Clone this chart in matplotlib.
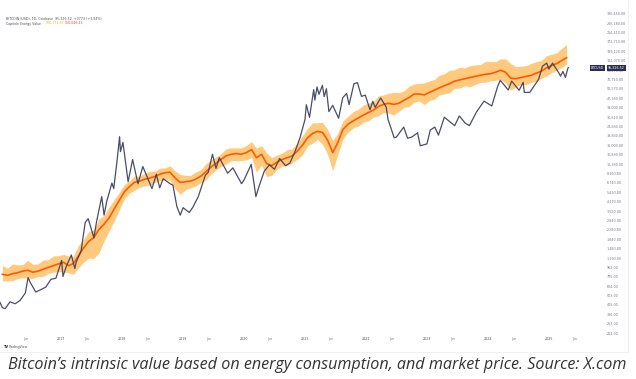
import matplotlib
matplotlib.use("Agg")
import matplotlib.pyplot as plt
import matplotlib.transforms as mtrans
import numpy as np
import pandas as pd

# ---------------- data ----------------
btc_dates = ["2016-01-01","2016-01-15","2016-02-01","2016-03-01","2016-04-01","2016-05-01","2016-06-01","2016-06-17",
    "2016-07-01","2016-08-02","2016-09-01","2016-10-01","2016-11-01","2016-12-01","2017-01-04","2017-01-12",
    "2017-02-01","2017-03-03","2017-03-24","2017-04-01","2017-05-01","2017-05-25","2017-06-12","2017-07-16",
    "2017-08-01","2017-09-01","2017-09-15","2017-10-01","2017-11-01","2017-11-12","2017-12-01","2017-12-17",
    "2017-12-22","2018-01-06","2018-02-06","2018-03-05","2018-04-06","2018-05-05","2018-06-29","2018-07-25",
    "2018-08-14","2018-09-04","2018-10-15","2018-11-01","2018-11-25","2018-12-15","2019-01-01","2019-02-07",
    "2019-03-01","2019-04-02","2019-05-14","2019-06-01","2019-06-26","2019-07-17","2019-08-06","2019-09-25",
    "2019-10-26","2019-12-17","2020-01-01","2020-02-13","2020-03-12","2020-04-01","2020-05-01","2020-06-01",
    "2020-07-01","2020-08-01","2020-09-05","2020-10-01","2020-11-01","2020-12-01","2020-12-31","2021-01-08",
    "2021-01-27","2021-02-21","2021-02-28","2021-03-13","2021-03-25","2021-04-14","2021-04-25","2021-05-08",
    "2021-05-23","2021-06-15","2021-07-20","2021-08-14","2021-09-06","2021-09-21","2021-10-20","2021-11-10",
    "2021-12-04","2021-12-27","2022-01-24","2022-02-10","2022-02-24","2022-03-29","2022-05-01","2022-05-12",
    "2022-06-18","2022-07-01","2022-08-14","2022-09-06","2022-10-01","2022-11-05","2022-11-21","2022-12-31",
    "2023-01-20","2023-02-16","2023-03-10","2023-04-14","2023-06-15","2023-07-13","2023-08-17","2023-09-11",
    "2023-10-24","2023-12-08","2024-01-23","2024-02-28","2024-03-14","2024-05-01","2024-05-21","2024-07-05",
    "2024-07-29","2024-08-05","2024-09-06","2024-10-29","2024-11-22","2024-12-17","2024-12-30","2025-01-21",
    "2025-02-28","2025-03-10","2025-03-24","2025-04-08","2025-04-22","2025-04-25"]
btc_prices = [430,380,372,435,416,450,535,760,675,545,575,610,730,750,1130,780,
    985,1280,935,1080,1420,2700,2950,1900,2750,4900,3200,4400,6700,5900,10900,19500,
    13800,17100,6900,11500,6600,9800,5900,8200,6000,7400,6600,6400,3900,3200,3800,3400,
    3850,4900,8000,8600,13000,9400,12000,8400,9500,6600,7200,10300,4900,6300,8800,10200,
    9200,11800,10000,10600,13800,19000,29000,40700,30400,57500,45200,61200,51700,63500,49000,58800,
    34700,40100,29800,47800,52700,40700,66000,67600,49300,50700,36200,44000,38300,47500,38500,29000,
    19000,19300,24300,18800,19300,21300,15800,16500,22700,24300,20200,30500,25100,31400,26600,25100,
    34500,44200,39500,62500,71400,57000,70100,56700,68200,54000,53900,72700,98900,106000,92300,106000,
    84300,78500,87400,76300,93400,95326]

energy_start = "2016-01-01"   # monthly values, Jan 2016 .. Apr 2025
energy_value = [820,800,830,850,880,900,860,880,920,960,1000,1040,
    1080,1000,1050,1250,1500,1750,1900,2300,2600,3000,3700,4500,
    5500,6200,6800,7000,7300,7500,7800,8200,8500,8600,7500,6800,
    6900,7000,7300,7800,8600,9600,10500,11500,12500,13000,13200,13000,
    13500,14500,12000,13000,10500,10000,10800,11500,12000,12500,14000,16000,
    19000,21000,22000,21500,18000,13500,17000,23000,26000,28000,30000,32000,
    34000,36000,39000,41000,42000,41000,42000,45000,48000,52000,52000,51000,
    54000,57000,60000,63000,66000,70000,72000,74000,76000,78000,80000,82000,
    83000,86000,90000,86000,75000,74000,76000,78000,80000,84000,88000,95000,
    100000,105000,112000,120000]
energy_hi = [1.22,1.18,1.25,1.20,1.16,1.26,1.20,1.18,1.24,1.19,1.25,1.21,
    1.20,1.25,1.18,1.28,1.22,1.25,1.20,1.27,1.22,1.28,1.24,1.20,
    1.18,1.14,1.16,1.12,1.15,1.17,1.13,1.15,1.12,1.16,1.18,1.20,
    1.16,1.14,1.18,1.16,1.20,1.18,1.16,1.14,1.18,1.16,1.14,1.16,
    1.18,1.20,1.25,1.22,1.28,1.20,1.18,1.16,1.20,1.18,1.20,1.24,
    1.24,1.28,1.22,1.26,1.28,1.32,1.24,1.22,1.20,1.24,1.22,1.26,
    1.24,1.22,1.28,1.24,1.26,1.32,1.28,1.24,1.30,1.26,1.28,1.32,
    1.30,1.28,1.34,1.32,1.36,1.30,1.34,1.28,1.32,1.30,1.28,1.34,
    1.32,1.28,1.30,1.36,1.40,1.32,1.30,1.28,1.32,1.30,1.28,1.32,
    1.30,1.28,1.32,1.36]
energy_lo = [0.86,0.88,0.85,0.87,0.86,0.83,0.87,0.88,0.85,0.87,0.86,0.84,
    0.80,0.85,0.78,0.76,0.72,0.68,0.62,0.58,0.68,0.74,0.76,0.80,
    0.85,0.86,0.83,0.87,0.86,0.85,0.87,0.86,0.85,0.83,0.78,0.76,
    0.83,0.86,0.85,0.86,0.83,0.85,0.86,0.85,0.83,0.86,0.85,0.86,
    0.85,0.83,0.72,0.78,0.74,0.80,0.85,0.86,0.83,0.85,0.83,0.80,
    0.83,0.80,0.83,0.76,0.72,0.66,0.76,0.80,0.83,0.85,0.83,0.85,
    0.83,0.85,0.81,0.83,0.80,0.78,0.83,0.85,0.81,0.83,0.85,0.80,
    0.83,0.81,0.85,0.83,0.81,0.85,0.83,0.85,0.81,0.83,0.85,0.83,
    0.85,0.83,0.81,0.78,0.76,0.83,0.85,0.83,0.85,0.83,0.85,0.83,
    0.85,0.86,0.85,0.86]

price_ticks = [212,263,326,405,503,624,775,962,1190,1480,1840,2280,2840,3520,4370,5430,6740,
    8360,10380,12890,16000,19860,24660,30610,38000,47180,58570,72710,90270,112070,139120,
    172710,214410,266180,330450]
time_ticks = ["2016-06-01","2017-01-01","2017-06-01","2018-01-01","2018-06-01","2019-01-01","2019-06-01",
    "2020-01-01","2020-06-01","2021-01-01","2021-06-01","2022-01-01","2022-06-01","2023-01-01",
    "2023-06-01","2024-01-01","2024-06-01","2025-01-01","2025-06-01"]
time_labels = ["Jun","2017","Jun","2018","Jun","2019","Jun","2020","Jun","2021","Jun","2022","Jun",
    "2023","Jun","2024","Jun","2025","Jun"]
last_price = 95326.52

# ---------------- figure ----------------
W, H = 636, 379
fig = plt.figure(figsize=(W/100, H/100), dpi=100)
fig.patch.set_facecolor("white")
ax = fig.add_axes([0, 1-336/H, 605/W, 333/H])
ax.set_facecolor("white")
ax.set_yscale("log")

bd = pd.to_datetime(btc_dates)
ed = pd.date_range(energy_start, periods=len(energy_value), freq="MS") + pd.Timedelta(days=14)
ev = np.array(energy_value, float)
hi = ev*np.array(energy_hi)
lo = ev*np.array(energy_lo)

ax.fill_between(ed, lo, hi, color="#ffa726", alpha=0.6, lw=0, zorder=2)
ax.plot(ed, ev, color="#ff5a00", lw=1.2, zorder=3)
ax.plot(bd, btc_prices, color="#363a59", lw=0.9, alpha=0.9, zorder=4)

ax.set_xlim(pd.Timestamp("2016-01-01"), pd.Timestamp("2025-12-01"))
ax.set_ylim(198, 423000)
for s in ax.spines.values():
    s.set_visible(False)

ax.yaxis.tick_right()
ax.set_yticks(price_ticks)
ax.set_yticklabels([f"{v:,.2f}" for v in price_ticks])
ax.yaxis.set_minor_locator(matplotlib.ticker.NullLocator())
ax.tick_params(axis="y", length=0, pad=1.5, labelsize=2.4, labelcolor="#787b86")

ax.set_xticks(pd.to_datetime(time_ticks))
ax.set_xticklabels(time_labels)
ax.tick_params(axis="x", length=0, pad=1.0, labelsize=2.3, labelcolor="#787b86")
for lbl in ax.get_xticklabels():
    if lbl.get_text() != "Jun":
        lbl.set_color("#4a4d57")

# price tag
tr = mtrans.blended_transform_factory(ax.transAxes, ax.transData)
ax.text(1.0 + 3/605, last_price, f"{last_price:,.2f}", transform=tr, ha="left", va="center",
        fontsize=2.3, color="white", zorder=6,
        bbox=dict(boxstyle="square,pad=0.35", fc="#2a2e57", ec="none"))
ax.text(1.0 - 1/605, last_price, "BTCUSD", transform=tr, ha="right", va="center",
        fontsize=2.3, color="white", zorder=6,
        bbox=dict(boxstyle="square,pad=0.35", fc="#2a2e57", ec="none"))

# legend header
fig.text(6/W, 1-19/H, "BITCOIN (USD), 1D, Coinbase  95,326.52  +3773 (+3.94%)", fontsize=2.3,
         color="#50535e", va="center", ha="left")
fig.text(6/W, 1-23.5/H, "Capriole Energy Value", fontsize=2.3, color="#50535e", va="center", ha="left")
fig.text(46/W, 1-23.5/H, "100,771.97", fontsize=2.3, color="#f5b400", va="center", ha="left")
fig.text(65/W, 1-23.5/H, "110,046.13", fontsize=2.3, color="#f23645", va="center", ha="left")

# logo
fig.text(4/W, 1-347/H, "TV", fontsize=2.4, color="#131722", weight="bold", va="center", ha="left")
fig.text(9/W, 1-347/H, "TradingView", fontsize=2.3, color="#50535e", va="center", ha="left")

# frame line of screenshot
fig.add_artist(plt.Line2D([628/W, 628/W], [1-352/H, 1], color="#eeeeee", lw=0.6))
fig.add_artist(plt.Line2D([0, 628/W], [1-352/H, 1-352/H], color="#eeeeee", lw=0.6))

# caption
fig.text(8/W, 1-365/H, "Bitcoin\u2019s intrinsic value based on energy consumption, and market price. Source: X.com",
         fontsize=11.6, family=["Open Sans", "DejaVu Sans"], style="italic", color="#333333",
         va="center", ha="left")

fig.savefig("out.png", dpi=100, facecolor="white")
